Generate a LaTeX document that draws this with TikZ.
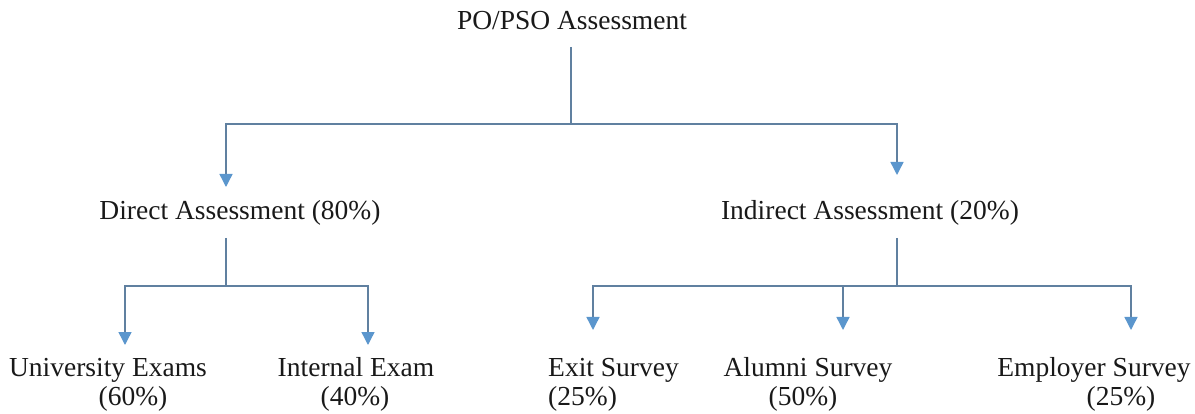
\documentclass[tikz,border=0pt]{standalone}
\usepackage{fontspec}
\setmainfont{Liberation Serif}
\usetikzlibrary{arrows.meta}
\definecolor{linkgrey}{RGB}{96,128,160}
\definecolor{tipblue}{RGB}{91,150,205}
\definecolor{inkblack}{RGB}{25,25,25}
\begin{document}
\begin{tikzpicture}[x=1pt,y=-1pt,
  label/.style={inner sep=0pt,anchor=base,text=inkblack,font=\fontsize{27.5}{31}\selectfont},
  link/.style={draw=linkgrey,line width=1.4pt},
  arrowlink/.style={link,-{Triangle[width=13pt,length=13pt,color=tipblue]}}]
\path[use as bounding box] (0,0) rectangle (1195,414);

% levels of the tree
\node[label] (root) at (572,30) {PO/PSO Assessment};
\node[label] (direct) at (240,220) {Direct Assessment (80\%)};
\node[label] (indirect) at (870,220) {Indirect Assessment (20\%)};

% leaves with their weights
\node[label] (univ) at (108,376) {University Exams};
\node[label] (univpct) at (133,405) {(60\%)};
\node[label] (internal) at (356,376) {Internal Exam};
\node[label] (internalpct) at (355,405) {(40\%)};
\node[label,anchor=base west] (exit) at (548,376) {Exit Survey};
\node[label,anchor=base west] (exitpct) at (548,405) {(25\%)};
\node[label] (alumni) at (808,376) {Alumni Survey};
\node[label] (alumnipct) at (803,405) {(50\%)};
\node[label] (employer) at (1094,376) {Employer Survey};
\node[label] (employerpct) at (1121,405) {(25\%)};

% branch points and arrow tips
\coordinate (rootdrop) at (571,47);
\coordinate (rootbus) at (571,124);
\coordinate (directtip) at (226,187);
\coordinate (indirecttip) at (897,175);
\coordinate (directdrop) at (226,238);
\coordinate (directbus) at (226,286);
\coordinate (univtip) at (125,345);
\coordinate (internaltip) at (368,345);
\coordinate (indirectdrop) at (897,238);
\coordinate (indirectbus) at (897,286);
\coordinate (exittip) at (593,330);
\coordinate (alumnitip) at (843,330);
\coordinate (employertip) at (1131,330);

% connectors
\draw[link] (rootdrop) -- (rootbus);
\draw[arrowlink] (rootbus) -| (directtip);
\draw[arrowlink] (rootbus) -| (indirecttip);

\draw[link] (directdrop) -- (directbus);
\draw[arrowlink] (directbus) -| (univtip);
\draw[arrowlink] (directbus) -| (internaltip);

\draw[link] (indirectdrop) -- (indirectbus);
\draw[arrowlink] (indirectbus) -| (exittip);
\draw[arrowlink] (indirectbus) -| (alumnitip);
\draw[arrowlink] (indirectbus) -| (employertip);
\end{tikzpicture}
\end{document}
